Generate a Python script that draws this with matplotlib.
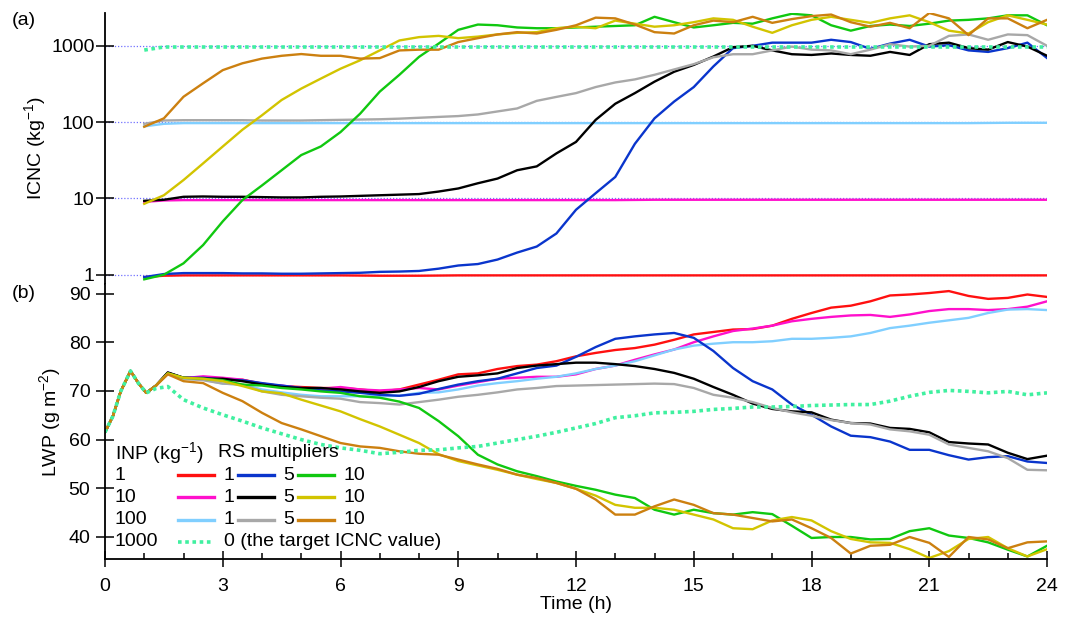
import numpy as np
import matplotlib
matplotlib.use('Agg')
import matplotlib.pyplot as plt
from matplotlib.lines import Line2D

plt.rcParams['font.family'] = ['Liberation Sans', 'DejaVu Sans']
plt.rcParams['mathtext.fontset'] = 'custom'
plt.rcParams['mathtext.rm'] = 'Liberation Sans'
plt.rcParams['mathtext.default'] = 'regular'
plt.rcParams['lines.solid_joinstyle'] = 'round'

# ---- time axes (h) ----
t_icnc = np.arange(1.0, 24.01, 0.5)
t_flat = np.array([1.0, 1.5, 2, 3, 4, 5, 6, 7, 8, 9, 10, 11, 12,
                   13, 14, 15, 16, 17, 18, 19, 20, 21, 22, 23, 24])
t_lwp = np.concatenate([[0, 0.2, 0.4, 0.65, 0.85, 1.05, 1.3, 1.6, 2.0],
                        np.arange(2.5, 24.01, 0.5)])

# ---- ICNC (kg-1), runs with RS multiplier 1 stay at the INP value ----
icnc_inp1_rs1 = [0.93, 0.97, 0.98, 0.98, 0.98, 0.98, 0.98, 0.97, 0.97, 0.98, 0.98, 0.98, 0.98,
                 0.98, 0.98, 0.98, 0.98, 0.98, 0.98, 0.98, 0.98, 0.98, 0.98, 0.98, 0.98]
icnc_inp10_rs1 = [9.0, 9.4, 9.5, 9.5, 9.5, 9.5, 9.5, 9.5, 9.5, 9.5, 9.5, 9.5, 9.5,
                  9.5, 9.6, 9.6, 9.6, 9.6, 9.6, 9.6, 9.6, 9.6, 9.6, 9.6, 9.6]
icnc_inp100_rs1 = [88, 95, 97, 97, 97, 97, 97, 97, 97, 97, 97, 97, 97,
                   97, 97, 97, 97, 97, 97, 97, 97, 97, 97, 98, 98]
icnc_target = [880, 965, 965, 965, 965, 965, 965, 965, 965, 965, 965, 965, 965,
               965, 965, 965, 965, 965, 965, 965, 965, 965, 965, 965, 965]

icnc_inp1_rs5 = [0.93, 1.02, 1.05, 1.05, 1.05, 1.04, 1.04, 1.03, 1.03, 1.04,
                 1.05, 1.06, 1.09, 1.10, 1.12, 1.20, 1.32, 1.38, 1.58, 1.95,
                 2.34, 3.47, 7.1, 11.7, 19.1, 52, 112, 186, 288, 537,
                 933, 1000, 1100, 1100, 1100, 1200, 1120, 912, 1070, 1200,
                 977, 1020, 871, 832, 933, 1100, 692]
icnc_inp10_rs5 = [9.3, 9.6, 10.5, 10.6, 10.5, 10.5, 10.4, 10.3, 10.3, 10.5,
                  10.6, 10.8, 11.0, 11.2, 11.4, 12.3, 13.5, 15.8, 18.2, 23.4,
                  26.3, 38.9, 55, 107, 174, 240, 339, 457, 562, 724,
                  960, 1000, 871, 776, 759, 794, 759, 741, 832, 759,
                  1050, 1100, 933, 891, 1120, 977, 741]
icnc_inp100_rs5 = [95, 105, 106, 106, 106, 106, 105, 105, 105, 106,
                   107, 108, 109, 111, 114, 117, 120, 126, 138, 151,
                   190, 214, 240, 288, 331, 363, 417, 490, 575, 708,
                   776, 776, 871, 977, 891, 871, 776, 891, 1050, 977,
                   1000, 1350, 1410, 1200, 1410, 1380, 1000]
icnc_inp1_rs10 = [0.87, 1.0, 1.41, 2.45, 5.0, 9.5, 14.8, 23.4, 37, 48,
                  74, 129, 251, 417, 716, 1070, 1620, 1900, 1860, 1740,
                  1700, 1700, 1740, 1780, 1820, 1860, 2400, 2040, 1740, 1860,
                  2000, 1950, 2290, 2630, 2510, 1860, 1580, 1820, 1900, 1820,
                  1950, 2140, 2190, 2290, 2510, 2510, 1860]
icnc_inp10_rs10 = [8.5, 11.0, 17.4, 28.8, 47.9, 79.4, 123, 195, 275, 372,
                   501, 646, 871, 1175, 1300, 1350, 1260, 1320, 1410, 1480,
                   1510, 1700, 1780, 1700, 2140, 1950, 1780, 1860, 2040, 2290,
                   2190, 1780, 1480, 1860, 2190, 2400, 2190, 2000, 2290, 2510,
                   2040, 1580, 1450, 2040, 2510, 2190, 1900]
icnc_inp100_rs10 = [87, 112, 215, 323, 480, 590, 680, 740, 780, 740,
                    740, 680, 690, 870, 890, 890, 1120, 1260, 1410, 1510,
                    1450, 1620, 1860, 2340, 2290, 1900, 1510, 1450, 1860, 2140,
                    2040, 2400, 2000, 2240, 2450, 2570, 2040, 1780, 2000, 1700,
                    2690, 2290, 1380, 2290, 2290, 1700, 2190]

# ---- LWP (g m-2) ----
lwp_spinup = [61.5, 64.8, 69.9, 74.1, 71.6, 69.6, 71.1]   # t <= 1.3 h, same for all runs

lwp_inp1_rs1 = lwp_spinup + [73.7, 72.7,
    72.7, 72.3, 72.3, 71.5, 71.0, 70.8, 70.6, 70.6, 70.3, 69.9,
    70.3, 71.3, 72.3, 73.4, 73.6, 74.5, 75.1, 75.4, 76.1, 77.1,
    77.8, 78.4, 78.8, 79.5, 80.5, 81.6, 82.1, 82.6, 82.7, 83.4,
    84.8, 86.0, 87.1, 87.5, 88.4, 89.6, 89.8, 90.1, 90.5, 89.5,
    88.9, 89.1, 89.8, 89.3]
lwp_inp10_rs1 = lwp_spinup + [73.7, 72.6,
    73.0, 72.7, 72.3, 71.3, 71.1, 70.6, 70.4, 70.8, 70.3, 70.1,
    70.3, 70.6, 70.3, 71.1, 71.8, 72.5, 72.7, 72.9, 72.9, 73.4,
    74.5, 75.2, 76.4, 77.5, 78.5, 80.0, 81.2, 82.3, 82.8, 83.4,
    84.3, 84.8, 85.2, 85.5, 85.6, 85.2, 85.7, 86.4, 86.8, 86.8,
    86.6, 86.8, 87.3, 88.4]
lwp_inp100_rs1 = lwp_spinup + [73.6, 72.5,
    72.3, 71.5, 71.3, 70.3, 69.7, 69.2, 68.9, 68.9, 68.9, 68.9,
    69.0, 69.6, 69.7, 70.3, 71.1, 71.6, 72.0, 72.5, 72.9, 73.6,
    74.5, 75.2, 76.1, 77.3, 78.5, 79.3, 79.7, 80.0, 80.0, 80.2,
    80.7, 80.7, 80.9, 81.2, 81.9, 82.9, 83.4, 84.0, 84.5, 85.0,
    86.0, 86.7, 86.8, 86.6]
lwp_inp1_rs5 = lwp_spinup + [73.7, 72.7,
    72.7, 72.3, 72.2, 71.6, 71.1, 70.6, 70.1, 69.9, 69.6, 69.2,
    69.0, 69.4, 70.4, 71.3, 72.0, 72.5, 73.6, 74.7, 75.2, 77.0,
    79.0, 80.7, 81.2, 81.6, 81.9, 80.9, 78.2, 74.7, 72.0, 70.3,
    67.2, 65.1, 62.7, 60.8, 60.5, 59.6, 57.9, 57.9, 56.8, 55.9,
    56.4, 56.6, 55.5, 55.2]
lwp_inp10_rs5 = lwp_spinup + [73.8, 72.7,
    72.5, 72.5, 72.0, 71.3, 70.8, 70.6, 70.6, 70.3, 69.9, 69.6,
    69.9, 70.8, 72.0, 72.9, 73.2, 73.6, 74.7, 75.2, 75.5, 75.8,
    75.8, 75.5, 75.1, 74.5, 73.7, 72.5, 70.8, 69.2, 67.4, 66.3,
    65.8, 65.6, 64.1, 63.4, 63.3, 62.4, 62.2, 61.5, 59.5, 59.2,
    59.0, 57.3, 56.0, 56.7]
lwp_inp100_rs5 = lwp_spinup + [73.5, 72.5,
    72.2, 71.5, 71.3, 69.9, 69.2, 68.9, 68.6, 68.4, 67.7, 67.5,
    67.2, 67.7, 68.2, 68.8, 69.2, 69.7, 70.3, 70.6, 71.0, 71.1,
    71.2, 71.3, 71.4, 71.5, 71.4, 70.6, 69.2, 68.6, 67.7, 66.5,
    65.6, 64.9, 64.0, 63.4, 63.1, 62.1, 61.7, 61.0, 59.0, 58.3,
    57.6, 56.2, 53.8, 53.7]
lwp_inp1_rs10 = lwp_spinup + [73.6, 72.7,
    72.5, 72.2, 71.3, 71.1, 70.6, 70.3, 69.9, 69.6, 68.9, 68.6,
    67.8, 66.5, 63.8, 60.7, 56.9, 54.9, 53.5, 52.5, 51.4, 50.5,
    49.7, 48.7, 48.0, 45.6, 44.6, 45.6, 44.9, 44.6, 45.1, 44.7,
    42.3, 39.8, 40.0, 40.0, 39.5, 39.6, 41.2, 41.8, 40.3, 39.8,
    38.9, 37.4, 36.0, 38.2]
lwp_inp10_rs10 = lwp_spinup + [73.6, 72.7,
    72.5, 72.0, 71.0, 69.9, 69.5, 68.2, 67.0, 65.8, 64.2, 62.7,
    61.0, 59.3, 57.0, 55.6, 54.7, 53.8, 52.8, 51.9, 51.1, 49.9,
    48.5, 46.6, 46.0, 46.0, 45.6, 44.6, 43.6, 41.8, 41.6, 43.4,
    44.1, 43.4, 41.2, 39.6, 38.9, 38.8, 37.5, 35.7, 37.1, 39.6,
    40.0, 37.7, 36.0, 37.5]
lwp_inp100_rs10 = lwp_spinup + [73.4, 72.0,
    71.6, 69.6, 67.9, 65.5, 63.4, 62.1, 60.7, 59.3, 58.6, 58.3,
    57.6, 57.1, 56.9, 55.9, 54.9, 54.0, 52.8, 52.1, 51.1, 49.9,
    47.7, 44.6, 44.6, 46.3, 47.7, 46.6, 44.9, 44.6, 43.9, 43.2,
    43.6, 41.8, 39.8, 36.6, 38.2, 38.4, 40.0, 38.8, 35.9, 40.0,
    39.5, 37.7, 38.9, 39.1]
lwp_target = [61.5, 64.8, 69.9, 74.1, 71.6, 69.6, 70.5, 70.9, 68.2,
    66.5, 65.1, 63.8, 62.4, 61.2, 60.0, 59.0, 58.3, 57.8, 57.1,
    57.4, 57.8, 57.9, 58.3, 58.6, 59.3, 60.0, 60.7, 61.5, 62.4,
    63.3, 64.5, 64.9, 65.5, 65.6, 65.8, 66.2, 66.4, 66.7, 66.7,
    66.8, 67.0, 67.1, 67.2, 67.2, 67.9, 68.9, 69.7, 70.1, 69.9,
    69.6, 69.9, 69.2, 69.6]

# legend text
inp_labels = ['1', '10', '100', '1000']
rs_labels = ['1', '5', '10']

c_red, c_blue, c_green = '#FF1010', '#0A35CC', '#10C810'
c_mag, c_black, c_yel = '#FF10CC', '#000000', '#D2C400'
c_lblue, c_grey, c_orange = '#80CFFF', '#A8A8A8', '#CC8010'
c_target = '#40F0A0'
dot = (0, (1, 1))

fig = plt.figure(figsize=(10.66, 6.2), dpi=100)
ax1 = fig.add_axes([0.0985, 0.5419, 0.8837, 0.4376])
ax2 = fig.add_axes([0.0985, 0.0979, 0.8837, 0.4440])

lw = 1.7

# ---- (a) ICNC ----
for v in [1, 10, 100, 1000]:
    ax1.axhline(v, color='#7070FF', lw=0.9, ls=(0, (1, 1.5)), zorder=1)
ax1.plot(t_flat, icnc_inp1_rs1, color=c_red, lw=lw)
ax1.plot(t_flat, icnc_inp10_rs1, color=c_mag, lw=lw)
ax1.plot(t_flat, icnc_inp100_rs1, color=c_lblue, lw=lw)
ax1.plot(t_icnc, icnc_inp1_rs5, color=c_blue, lw=lw)
ax1.plot(t_icnc, icnc_inp10_rs5, color=c_black, lw=lw)
ax1.plot(t_icnc, icnc_inp100_rs5, color=c_grey, lw=lw)
ax1.plot(t_icnc, icnc_inp1_rs10, color=c_green, lw=lw)
ax1.plot(t_icnc, icnc_inp10_rs10, color=c_yel, lw=lw)
ax1.plot(t_icnc, icnc_inp100_rs10, color=c_orange, lw=lw)
ax1.plot(t_flat, icnc_target, color=c_target, lw=2.6, ls=dot)

ax1.set_yscale('log')
ax1.set_ylim(0.755, 2716)
ax1.set_xlim(0, 24)
ax1.set_yticks([1, 10, 100, 1000])
ax1.set_yticklabels(['1', '10', '100', '1000'])
ax1.yaxis.set_minor_locator(matplotlib.ticker.NullLocator())
ax1.set_xticks([])
ax1.set_ylabel('ICNC (kg$^{-1}$)', fontsize=14, labelpad=2)
for s in ['top', 'right', 'bottom']:
    ax1.spines[s].set_visible(False)
ax1.tick_params(axis='y', direction='inout', length=13, width=1.1, labelsize=14, pad=1)

# ---- (b) LWP ----
ax2.plot(t_lwp, lwp_inp1_rs1, color=c_red, lw=lw)
ax2.plot(t_lwp, lwp_inp10_rs1, color=c_mag, lw=lw)
ax2.plot(t_lwp, lwp_inp100_rs1, color=c_lblue, lw=lw)
ax2.plot(t_lwp, lwp_inp1_rs5, color=c_blue, lw=lw)
ax2.plot(t_lwp, lwp_inp10_rs5, color=c_black, lw=lw)
ax2.plot(t_lwp, lwp_inp100_rs5, color=c_grey, lw=lw)
ax2.plot(t_lwp, lwp_inp1_rs10, color=c_green, lw=lw)
ax2.plot(t_lwp, lwp_inp10_rs10, color=c_yel, lw=lw)
ax2.plot(t_lwp, lwp_inp100_rs10, color=c_orange, lw=lw)
ax2.plot(t_lwp, lwp_target, color=c_target, lw=2.6, ls=dot)

ax2.set_xlim(0, 24)
ax2.set_ylim(35.42, 91.95)
ax2.set_yticks([40, 50, 60, 70, 80, 90])
ax2.set_xticks(range(0, 25, 3))
ax2.set_xticks(range(0, 25), minor=True)
ax2.set_ylabel('LWP (g m$^{-2}$)', fontsize=14, labelpad=4)
ax2.set_xlabel('Time (h)', fontsize=14, labelpad=1)
for s in ['top', 'right']:
    ax2.spines[s].set_visible(False)
ax2.tick_params(axis='y', direction='inout', length=13, width=1.1, labelsize=14, pad=4)
ax2.tick_params(axis='x', which='major', direction='inout', length=11, width=1.1,
                labelsize=14, pad=8)
ax2.tick_params(axis='x', which='minor', direction='in', length=4, width=1.1)

for ax in (ax1, ax2):
    for s in ax.spines.values():
        s.set_linewidth(1.3)

fig.text(0.011, 0.967, '(a)', fontsize=14, va='center')
fig.text(0.011, 0.527, '(b)', fontsize=14, va='center')

# ---- legend table ----
fs = 14
row_y = [0.306, 0.225, 0.144, 0.063]
ax2.text(0.0106, 0.387, 'INP (kg$^{-1}$)', transform=ax2.transAxes, fontsize=fs, va='center')
ax2.text(0.120, 0.387, 'RS multipliers', transform=ax2.transAxes, fontsize=fs, va='center')
for lab, y in zip(inp_labels, row_y):
    ax2.text(0.0106, y, lab, transform=ax2.transAxes, fontsize=fs, va='center')

row_colors = [[c_red, c_blue, c_green], [c_mag, c_black, c_yel], [c_lblue, c_grey, c_orange]]
seg_x = [(0.0775, 0.1157), (0.1412, 0.1794), (0.2049, 0.2431)]
lab_x = [0.1255, 0.1895, 0.2537]
for colors, y in zip(row_colors, row_y[:3]):
    for c, (x0, x1), xl, rs in zip(colors, seg_x, lab_x, rs_labels):
        ax2.add_line(Line2D([x0, x1], [y, y], color=c, lw=2.4, transform=ax2.transAxes))
        ax2.text(xl, y, rs, transform=ax2.transAxes, fontsize=fs, va='center')
ax2.add_line(Line2D([0.0775, 0.1157], [row_y[3], row_y[3]], color=c_target, lw=2.6, ls=dot,
                    transform=ax2.transAxes))
ax2.text(0.1263, row_y[3], '0 (the target ICNC value)', transform=ax2.transAxes,
         fontsize=fs, va='center')

fig.savefig('out.png', dpi=100)
